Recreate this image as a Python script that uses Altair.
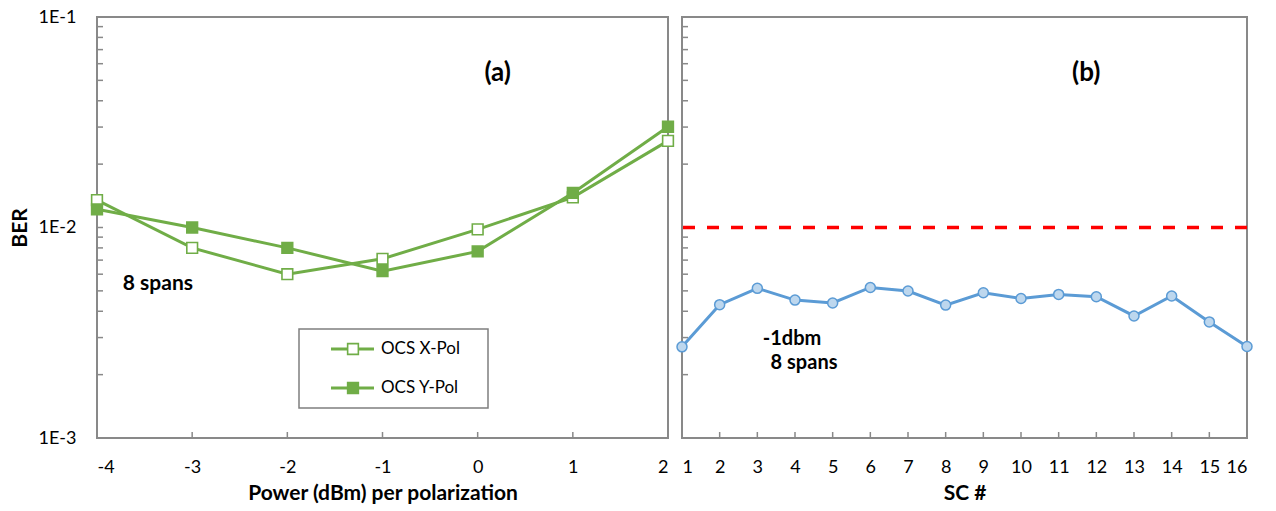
import altair as alt
import pandas as pd

# ---------- data ----------
power = [-4, -3, -2, -1, 0, 1, 2]
ber_x = [0.0135, 0.0080, 0.0060, 0.0071, 0.0098, 0.0139, 0.0258]
ber_y = [0.0122, 0.0100, 0.0080, 0.0062, 0.0077, 0.0146, 0.0301]
series_names = ["OCS X-Pol", "OCS Y-Pol"]

sc = list(range(1, 17))
ber_sc = [0.00271, 0.00430, 0.00514, 0.00452, 0.00438, 0.00519, 0.00499, 0.00428,
          0.00490, 0.00460, 0.00481, 0.00469, 0.00380, 0.00473, 0.00356, 0.00272]
threshold = [0.01]

y_major = [0.001, 0.01, 0.1]
y_minor = [0.002, 0.003, 0.004, 0.005, 0.006, 0.007, 0.008, 0.009, 0.01,
           0.02, 0.03, 0.04, 0.05, 0.06, 0.07, 0.08, 0.09]
x_ticks_a = [-3, -2, -1, 0, 1]
x_ticks_b = list(range(2, 16))

GREEN = "#70AD47"
BLUE = "#5B9BD5"
BLUE_FILL = "#BDD7EE"
GRAY = "#898989"
FONT = "Lato"

W_A, W_B, H = 571, 565, 421

df_a = pd.DataFrame({
    "power": power * 2,
    "ber": ber_x + ber_y,
    "series": [series_names[0]] * len(power) + [series_names[1]] * len(power),
})
df_b = pd.DataFrame({"sc": sc, "ber": ber_sc})

yscale = alt.Scale(type="log", domain=[0.001, 0.1], nice=False)
label_expr = ("datum.value >= 0.09 ? '1E-1' : datum.value >= 0.009 ? '1E-2' : '1E-3'")
fill_scale = alt.Scale(domain=series_names, range=["white", GREEN])

# ---------- panel (a) ----------
xscale_a = alt.Scale(domain=[-4, 2], nice=False)
xaxis_a = alt.Axis(values=power, labelExpr="'' + datum.value", ticks=False, domain=False,
                   grid=False, labelPadding=20, title="Power (dBm) per polarization",
                   titlePadding=6)
yaxis_a = alt.Axis(values=y_major, labelExpr=label_expr, ticks=False,
                   domain=False, grid=False, labelPadding=21, title="BER", titlePadding=8)


def XA(f):
    return alt.X(f, scale=xscale_a, axis=xaxis_a)


def YA(f):
    return alt.Y(f, scale=yscale, axis=yaxis_a)


lines_a = alt.Chart(df_a).mark_line(color=GREEN, strokeWidth=3).encode(
    x=XA("power:Q"), y=YA("ber:Q"), detail="series:N")
pts_a = alt.Chart(df_a).mark_point(shape="square", size=115, filled=False,
                                   stroke=GREEN, strokeWidth=1.6, opacity=1).encode(
    x=XA("power:Q"), y=YA("ber:Q"),
    fill=alt.Fill("series:N", scale=fill_scale, legend=None))

yt_a = alt.Chart(pd.DataFrame({"v": y_minor})).mark_rule(color=GRAY, strokeWidth=1.5).encode(
    y=YA("v:Q"), x=alt.value(0), x2=alt.value(6))
xt_a = alt.Chart(pd.DataFrame({"v": x_ticks_a})).mark_rule(color=GRAY, strokeWidth=1.5).encode(
    x=XA("v:Q"), y=alt.value(H), y2=alt.value(H - 6))

ann_a = alt.Chart(pd.DataFrame({
    "x": [0.21, -3.36], "y": [0.0542, 0.0054], "t": ["(a)", "8 spans"],
    "s": [26, 21]})).mark_text(font=FONT, fontWeight="bold", color="black").encode(
    x=XA("x:Q"), y=YA("y:Q"), text="t:N", size=alt.Size("s:Q", scale=None))

# legend (drawn)
one = pd.DataFrame({"a": [0]})
leg_box = alt.Chart(one).mark_rect(
    fill="white", stroke="#7F7F7F", strokeWidth=1.5).encode(
    x=alt.value(202), x2=alt.value(391), y=alt.value(312), y2=alt.value(391))
leg_layers = []
for name, py, fill in [(series_names[0], 332, "white"), (series_names[1], 371, GREEN)]:
    leg_layers.append(alt.Chart(one).mark_rule(color=GREEN, strokeWidth=3).encode(
        x=alt.value(234), x2=alt.value(277), y=alt.value(py)))
    leg_layers.append(alt.Chart(one).mark_point(
        shape="square", size=115, filled=True, fill=fill, stroke=GREEN,
        strokeWidth=1.6, opacity=1).encode(x=alt.value(256), y=alt.value(py)))
    leg_layers.append(alt.Chart(one).mark_text(
        font=FONT, fontSize=17, align="left", color="black", text=name).encode(
        x=alt.value(284), y=alt.value(py)))

panel_a = alt.layer(yt_a, xt_a, lines_a, pts_a, ann_a, leg_box, *leg_layers).properties(
    width=W_A, height=H)

# ---------- panel (b) ----------
xscale_b = alt.Scale(domain=[1, 16], nice=False)
xaxis_b = alt.Axis(values=sc, ticks=False, domain=False, grid=False,
                   labelPadding=20, title="SC #", titlePadding=6)


def XB(f):
    return alt.X(f, scale=xscale_b, axis=xaxis_b)


def YB(f):
    return alt.Y(f, scale=yscale, axis=None)


thr = alt.Chart(pd.DataFrame({"v": threshold})).mark_rule(
    color="#FF0000", strokeWidth=3.5, strokeDash=[12, 12]).encode(y=YB("v:Q"))
line_b = alt.Chart(df_b).mark_line(color=BLUE, strokeWidth=3).encode(
    x=XB("sc:Q"), y=YB("ber:Q"))
pts_b = alt.Chart(df_b).mark_point(shape="circle", size=100, filled=True, fill=BLUE_FILL,
                                   stroke=BLUE, strokeWidth=1.5, opacity=1).encode(
    x=XB("sc:Q"), y=YB("ber:Q"))
yt_b = alt.Chart(pd.DataFrame({"v": y_minor})).mark_rule(color=GRAY, strokeWidth=1.5).encode(
    y=YB("v:Q"), x=alt.value(0), x2=alt.value(6))
xt_b = alt.Chart(pd.DataFrame({"v": x_ticks_b})).mark_rule(color=GRAY, strokeWidth=1.5).encode(
    x=XB("v:Q"), y=alt.value(H), y2=alt.value(H - 6))
ann_b = alt.Chart(pd.DataFrame({
    "x": [11.73, 3.92, 4.24], "y": [0.0542, 0.00296, 0.00228],
    "t": ["(b)", "-1dbm", "8 spans"], "s": [26, 20, 20]})).mark_text(
    font=FONT, fontWeight="bold", color="black").encode(
    x=XB("x:Q"), y=YB("y:Q"), text="t:N", size=alt.Size("s:Q", scale=None))

panel_b = alt.layer(yt_b, xt_b, thr, line_b, pts_b, ann_b).properties(width=W_B, height=H)

chart = alt.hconcat(panel_a, panel_b, spacing=14, bounds="flush").properties(
    padding={"left": 8, "top": 7, "right": 5, "bottom": 5}
).configure_view(stroke=GRAY, strokeWidth=2).configure_axis(
    labelFont=FONT, labelFontSize=18, labelColor="black",
    titleFont=FONT, titleFontSize=21, titleFontWeight="bold", titleColor="black"
)

chart.save("out.html", embed_options={"renderer": "svg", "actions": False})
